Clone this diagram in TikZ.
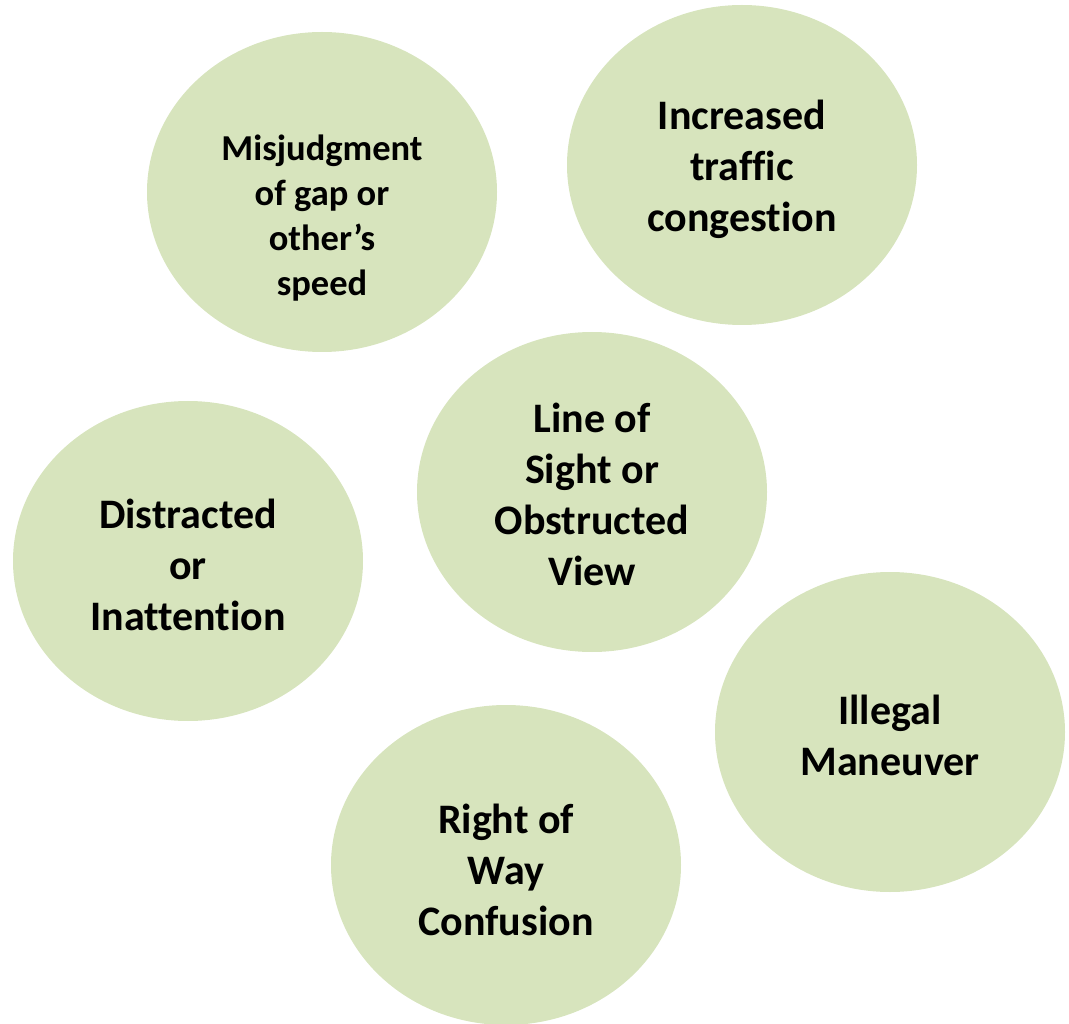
\documentclass[tikz,border=0pt]{standalone}
\usepackage{fontspec}
\setmainfont[Ligatures=NoCommon]{Carlito}
\usetikzlibrary{shapes.geometric}
\definecolor{bubblegreen}{HTML}{D7E4BD}
\tikzset{
  bubble/.style={ellipse, fill=bubblegreen, draw=none, inner sep=0pt,
    minimum width=350pt, minimum height=320pt},
  bigtext/.style={align=center, inner sep=0pt,
    font=\fontsize{42}{51}\selectfont\bfseries},
  smalltext/.style={align=center, inner sep=0pt,
    font=\fontsize{36.5}{45}\selectfont\bfseries}
}
\begin{document}
\begin{tikzpicture}[x=1pt, y=-1pt]
  \useasboundingbox (0,0) rectangle (1069,1024);
  % bubbles
  \node[bubble] (misjudge) at (322,192) {};
  \node[bubble] (traffic)  at (742,165) {};
  \node[bubble] (sight)    at (592,492) {};
  \node[bubble] (distract) at (188,561) {};
  \node[bubble] (illegal)  at (890,732) {};
  \node[bubble] (rightway) at (506,865) {};
  % labels
  \node[smalltext] (misjudgeT) at (322,218) {Misjudgment\\of gap or\\other’s\\speed};
  \node[bigtext] (trafficT)  at (742,169) {Increased\\traffic\\congestion};
  \node[bigtext] (sightT)    at (592,494) {Line of\\Sight or\\Obstructed\\View};
  \node[bigtext] (distractT) at (188,565) {Distracted\\or\\Inattention};
  \node[bigtext] (illegalT)  at (890,735) {Illegal\\Maneuver};
  \node[bigtext] (rightwayT) at (506,870) {Right of\\Way\\Confusion};
\end{tikzpicture}
\end{document}
